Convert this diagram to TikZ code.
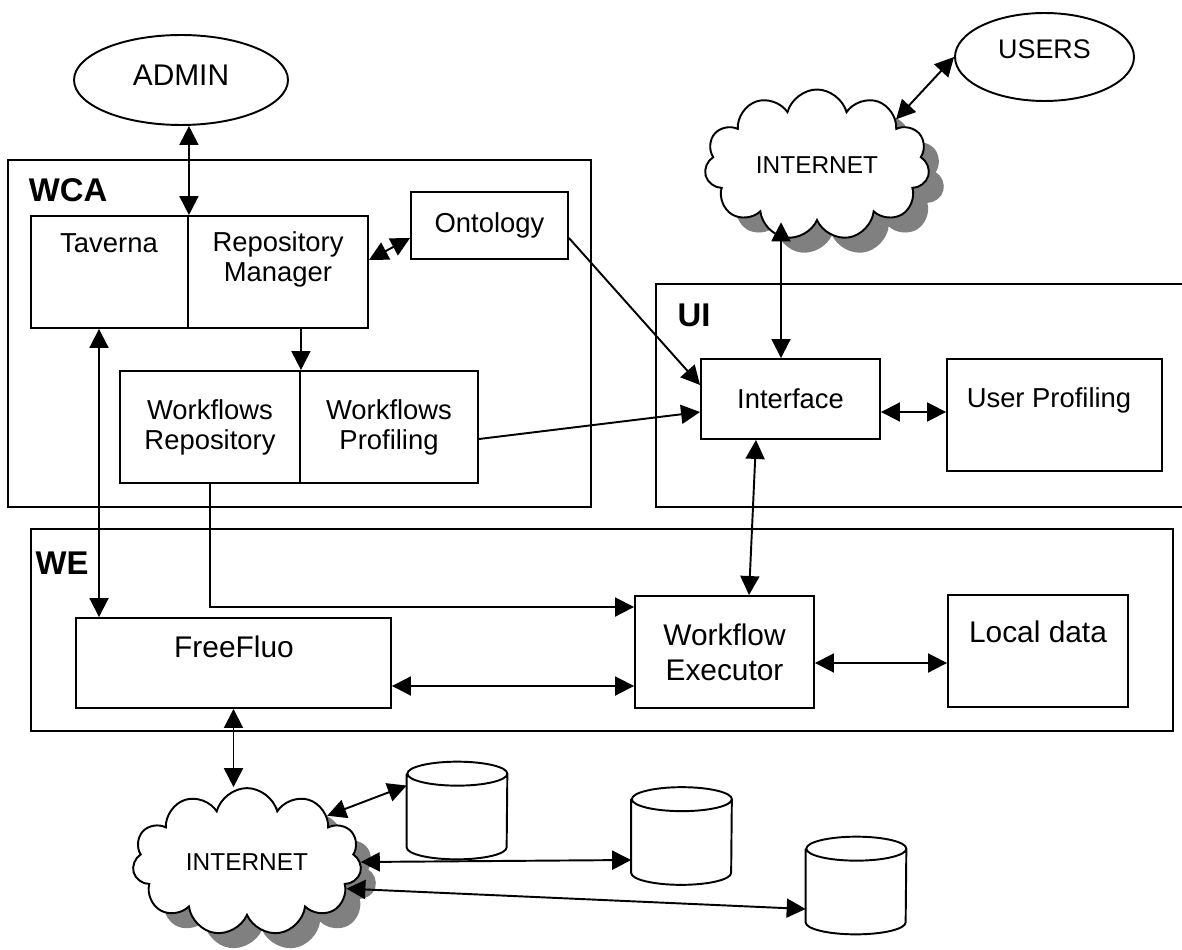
\documentclass[tikz,border=0pt]{standalone}
\usepackage{fontspec}
\setmainfont{Liberation Sans}
\usetikzlibrary{arrows.meta,shapes.geometric,shapes.symbols,shadows}

\newcommand{\dbshape}[1]{%
	\draw[line width=1.1pt, fill=white] ([yshift=-0.24cm]#1.north west) -- ([yshift=0.24cm]#1.south west)
		arc[start angle=180, end angle=360, x radius=1cm, y radius=0.24cm]
		-- ([yshift=-0.24cm]#1.north east)
		arc[start angle=0, end angle=180, x radius=1cm, y radius=0.24cm]
		arc[start angle=180, end angle=360, x radius=1cm, y radius=0.24cm];}

\begin{document}
\begin{tikzpicture}[x=0.02cm,y=-0.02cm,
	box/.style={draw, line width=1.1pt, inner sep=0pt},
	txt/.style={inner sep=0pt, align=center, font=\fontsize{15.6}{17}\selectfont},
	big/.style={inner sep=0pt, align=center, font=\fontsize{17}{19.8}\selectfont},
	ttl/.style={inner sep=0pt, font=\fontsize{18.7}{20}\selectfont\bfseries},
	dbl/.style={line width=1.1pt, {Triangle[length=0.38cm,width=0.38cm]}-{Triangle[length=0.38cm,width=0.38cm]}},
	arr/.style={line width=1.1pt, -{Triangle[length=0.38cm,width=0.38cm]}},
	actor/.style={ellipse, draw, line width=1.1pt, inner sep=0pt},
	net/.style={cloud, cloud puffs=11, aspect=1.5, draw, line width=1.1pt, fill=white, inner sep=0pt,
		font=\fontsize{13.9}{16}\selectfont,
		drop shadow={shadow xshift=0.3cm, shadow yshift=-0.3cm, fill=gray, opacity=1}},
	db/.style={rectangle, minimum width=2cm, minimum height=1.94cm, inner sep=0pt}]
	\useasboundingbox (0,0) rectangle (1182,949);
	\node[box, minimum width=11.66cm, minimum height=6.94cm] (wca) at (299.5,333.5) {};
	\node[box, minimum width=10.6cm, minimum height=4.46cm] (ui) at (921,395.5) {};
	\node[box, minimum width=22.84cm, minimum height=4.04cm] (we) at (602,630) {};
	\node[ttl] (wcat) at (68,190) {WCA};
	\node[ttl] (uit) at (694,315) {UI};
	\node[ttl] (wet) at (62,563) {WE};
	\node[box, minimum width=3.14cm, minimum height=2.24cm] (tav) at (109.5,272) {};
	\node[box, minimum width=3.6cm, minimum height=2.24cm] (rm) at (278,272) {};
	\node[txt] (tavt) at (109,243) {Taverna};
	\node[txt] (rmt) at (278,259) {Repository\\Manager};
	\node[box, txt, minimum width=3.14cm, minimum height=1.34cm] (onto) at (489.5,225.5) {Ontology};
	\node[box, txt, minimum width=3.6cm, minimum height=2.24cm] (wr) at (210,427) {Workflows\\Repository};
	\node[box, txt, minimum width=3.56cm, minimum height=2.24cm] (wp) at (389,427) {Workflows\\Profiling};
	\node[box, txt, minimum width=3.58cm, minimum height=1.6cm] (iface) at (790.5,399) {Interface};
	\node[box, minimum width=4.3cm, minimum height=2.24cm] (up) at (1054.5,415) {};
	\node[txt] (upt) at (1049,400) {User Profiling};
	\node[box, minimum width=6.3cm, minimum height=1.8cm] (ff) at (233.5,663) {};
	\node[big] (fft) at (234,647) {FreeFluo};
	\node[box, big, minimum width=3.58cm, minimum height=2.24cm] (wx) at (724.5,652) {Workflow\\Executor};
	\node[box, minimum width=3.6cm, minimum height=2.24cm] (ld) at (1038,651) {};
	\node[big] (ldt) at (1038,632) {Local data};
	\node[actor, minimum width=4.28cm, minimum height=1.8cm, text depth=0.2cm, font=\fontsize{17}{20}\selectfont] (admin) at (181,80) {ADMIN};
	\node[actor, minimum width=3.58cm, minimum height=1.76cm, text depth=0.32cm, font=\fontsize{15.3}{18}\selectfont] (users) at (1044.5,57) {USERS};
	\node[net, minimum width=4.5cm, minimum height=3.02cm] (net1) at (817,165) {INTERNET};
	\node[net, minimum width=4.58cm, minimum height=2.9cm] (net2) at (247,862) {INTERNET};
	\node[db] (db1) at (457,810.5) {};
	\node[db] (db2) at (681.5,836) {};
	\node[db] (db3) at (856,885.5) {};
	\dbshape{db1}
	\dbshape{db2}
	\dbshape{db3}
	\coordinate (tavdn) at ([xshift=-0.21cm]tav.south);
	\coordinate (ifup) at ([xshift=-0.19cm]iface.north);
	\coordinate (ifrt) at ([yshift=-0.26cm]iface.east);
	\coordinate (ffrt) at ([yshift=-0.46cm]ff.east);
	\coordinate (wxrt) at ([yshift=-0.22cm]wx.east);
	\draw[dbl] (admin.south -| tav.north east) -- (tav.north east);
	\draw[dbl] ([yshift=0.24cm]rm.east) -- ([yshift=-0.25cm]onto.west);
	\draw[arr] ([yshift=-0.25cm]onto.east) -- ([yshift=0.28cm]iface.west);
	\draw[arr] ([yshift=-0.24cm]wp.east) -- ([yshift=-0.26cm]iface.west);
	\draw[arr] (rm.south -| wr.north east) -- (wr.north east);
	\draw[dbl] (tavdn) -- (tavdn |- ff.north);
	\draw[arr] (wr.south) |- ([yshift=0.9cm]wx.west);
	\draw[dbl] ([xshift=-0.69cm]iface.south) -- ([xshift=0.49cm]wx.north);
	\draw[dbl] (ifrt) -- (ifrt -| up.west);
	\draw[dbl] (ifup) -- (ifup |- net1.south);
	\draw[dbl] (users.west) -- (net1.30);
	\draw[dbl] (ffrt) -- (ffrt -| wx.west);
	\draw[dbl] (wxrt) -- (wxrt -| ld.west);
	\draw[dbl] (ff.south) -- (ff.south |- net2.north);
	\draw[dbl] (net2.30) -- ([yshift=0.5cm]db1.west);
	\draw[dbl] (net2.0) -- ([yshift=-0.48cm]db2.west);
	\draw[dbl] (net2.-15) -- ([yshift=-0.47cm]db3.west);
\end{tikzpicture}
\end{document}
